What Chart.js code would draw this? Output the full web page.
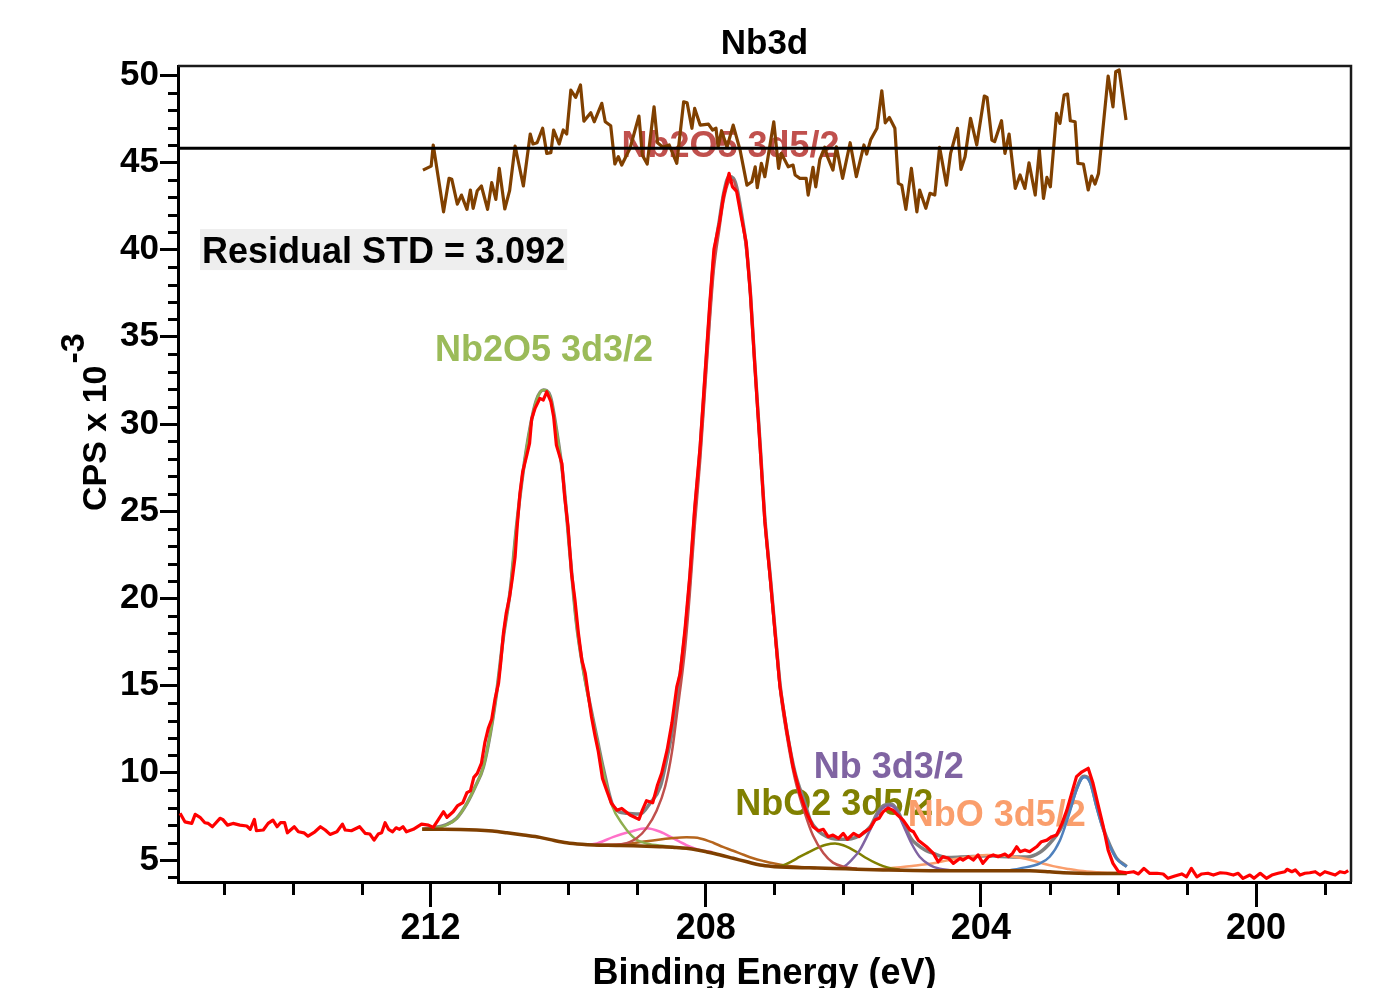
<!DOCTYPE html>
<html>
<head>
<meta charset="utf-8">
<title>Nb3d</title>
<script src="https://cdn.jsdelivr.net/npm/chart.js@4.4.1/dist/chart.umd.min.js"></script>
<style>
  html, body { margin: 0; padding: 0; background: #fff; }
  #chart { display: block; }
</style>
</head>
<body>
<canvas id="chart" width="1383" height="988"></canvas>
<script>
// Nb3d region, binding energy (eV) vs CPS x 10^-3

const xTicks = [212, 208, 204, 200];
const xMinorTicks = [215, 214, 213, 211, 210, 209, 207, 206, 205, 203, 202, 201, 199];
const yTicks = [5, 10, 15, 20, 25, 30, 35, 40, 45, 50];
const yMinorTicks = [4, 6, 7, 8, 9, 11, 12, 13, 14, 16, 17, 18, 19, 21, 22, 23, 24, 26, 27, 28, 29,
  31, 32, 33, 34, 36, 37, 38, 39, 41, 42, 43, 44, 46, 47, 48, 49];

// measured spectrum [eV, CPS x 10^-3]
const rawData = [
  [215.64,7.68],[215.57,7.19],[215.47,7.10],[215.42,7.62],[215.35,7.45],[215.28,7.14],[215.23,7.10],
  [215.17,6.91],[215.06,7.39],[215.02,7.33],[214.95,7.00],[214.87,7.10],[214.77,7.00],[214.67,6.95],
  [214.62,6.76],[214.56,7.33],[214.53,6.68],[214.43,6.72],[214.36,7.10],[214.29,7.29],[214.23,6.91],
  [214.18,7.14],[214.12,7.14],[214.08,6.56],[213.98,6.91],[213.92,6.62],[213.84,6.56],[213.78,6.37],
  [213.68,6.62],[213.60,6.91],[213.53,6.72],[213.46,6.47],[213.36,6.62],[213.28,7.06],[213.24,6.72],
  [213.15,6.68],[213.03,6.91],[212.95,6.53],[212.88,6.49],[212.82,6.14],[212.76,6.49],[212.71,6.56],
  [212.66,7.14],[212.61,6.76],[212.55,6.62],[212.50,6.85],[212.45,6.76],[212.40,6.91],[212.35,6.62],
  [212.25,6.76],[212.13,7.06],[212.03,7.00],[211.96,6.87],[211.89,7.29],[211.81,7.77],[211.76,7.45],
  [211.67,7.77],[211.61,8.10],[211.53,8.29],[211.47,8.86],[211.42,8.97],[211.37,9.74],[211.32,9.97],
  [211.26,10.54],[211.21,11.73],[211.16,12.55],[211.11,13.07],[211.06,14.27],[211.01,15.16],[210.98,16.28],
  [210.94,18.00],[210.90,19.14],[210.85,20.09],[210.81,21.15],[210.77,22.39],[210.74,24.11],[210.70,26.02],
  [210.66,27.26],[210.60,28.22],[210.56,28.89],[210.53,30.27],[210.48,30.90],[210.41,31.47],[210.36,31.38],
  [210.31,31.85],[210.25,31.28],[210.21,30.42],[210.17,28.79],[210.09,27.74],[210.05,25.83],[210.00,24.11],
  [209.95,21.44],[209.90,19.91],[209.85,18.00],[209.80,16.47],[209.75,15.70],[209.71,14.56],[209.66,13.22],
  [209.61,12.16],[209.56,11.21],[209.50,9.68],[209.44,9.01],[209.37,8.25],[209.29,7.86],[209.22,7.96],
  [209.10,7.58],[208.97,7.33],[208.92,7.86],[208.86,8.40],[208.77,8.28],[208.70,9.30],[208.64,9.97],
  [208.56,11.31],[208.49,12.88],[208.42,14.93],[208.37,15.70],[208.30,18.25],[208.23,21.33],[208.16,25.17],
  [208.08,28.75],[208.01,32.85],[207.94,36.94],[207.88,40.02],[207.80,41.55],[207.74,43.09],[207.66,44.37],
  [207.61,43.60],[207.55,43.34],[207.48,41.81],[207.41,40.40],[207.35,37.46],[207.29,33.62],[207.21,28.75],
  [207.14,24.40],[207.06,21.08],[206.99,18.00],[206.92,14.93],[206.82,12.37],[206.73,10.35],[206.63,8.82],
  [206.53,7.68],[206.44,6.91],[206.36,6.68],[206.29,6.76],[206.22,6.34],[206.15,6.43],[206.07,6.24],
  [206.00,6.53],[205.94,6.19],[205.85,6.53],[205.77,6.34],[205.69,6.62],[205.61,6.82],[205.54,7.29],
  [205.48,7.39],[205.42,7.77],[205.35,7.98],[205.28,7.86],[205.21,7.58],[205.13,7.29],[205.03,6.72],
  [204.98,6.62],[204.91,6.14],[204.79,5.76],[204.69,5.38],[204.62,4.90],[204.55,5.19],[204.47,5.10],
  [204.40,4.81],[204.30,5.10],[204.26,5.00],[204.18,5.19],[204.11,5.00],[204.04,5.29],[203.97,4.81],
  [203.89,5.19],[203.82,5.29],[203.75,5.19],[203.65,5.34],[203.60,5.19],[203.54,5.38],[203.48,5.76],
  [203.43,5.48],[203.36,5.57],[203.29,5.48],[203.19,5.76],[203.12,6.05],[203.04,6.14],[202.97,6.34],
  [202.90,6.43],[202.82,7.10],[202.75,7.86],[202.68,8.82],[202.61,9.78],[202.53,10.06],[202.44,10.26],
  [202.37,9.40],[202.29,8.06],[202.22,6.91],[202.15,5.57],[202.08,4.81],[202.00,4.33],[201.88,4.27],
  [201.78,4.33],[201.71,4.20],[201.63,4.52],[201.55,4.24],[201.44,4.24],[201.35,4.20],[201.28,3.95],
  [201.18,4.08],[201.08,4.20],[201.01,4.04],[200.94,4.52],[200.86,4.04],[200.79,4.20],[200.70,4.24],
  [200.62,4.14],[200.52,4.27],[200.43,4.24],[200.33,4.14],[200.26,4.24],[200.19,3.95],[200.09,4.14],
  [200.03,3.95],[199.94,4.24],[199.85,3.95],[199.77,4.14],[199.68,4.24],[199.58,4.33],[199.55,4.47],
  [199.48,4.33],[199.43,4.43],[199.36,4.14],[199.29,4.24],[199.22,4.27],[199.14,4.33],[199.07,4.14],
  [199.00,4.33],[198.93,4.24],[198.85,4.14],[198.78,4.33],[198.71,4.27],[198.66,4.39]
];

// Shirley background
const backgroundData = [
  [212.12,6.76],[211.80,6.76],[211.33,6.72],[211.10,6.66],[210.89,6.56],[210.65,6.43],[210.41,6.30],
  [210.20,6.12],[210.02,5.99],[209.80,5.90],[209.63,5.86],[209.30,5.84],[209.05,5.82],[208.66,5.76],
  [208.45,5.72],[208.28,5.67],[208.12,5.58],[207.99,5.47],[207.80,5.30],[207.60,5.10],[207.40,4.90],
  [207.21,4.71],[207.00,4.62],[206.82,4.58],[206.50,4.55],[206.15,4.52],[205.80,4.47],[205.42,4.43],
  [204.74,4.39],[204.01,4.39],[203.29,4.39],[203.00,4.33],[202.80,4.27],[202.32,4.23],[201.88,4.23]
];

// fit components (each sits on the background)
const nb2o5_32 = [
  [212.12,6.76],[211.96,6.80],[211.76,7.01],[211.62,7.39],[211.47,8.25],[211.35,9.20],[211.23,10.35],
  [211.13,12.26],[211.04,14.56],[210.94,17.80],[210.84,20.48],[210.75,24.11],[210.65,27.36],[210.55,29.84],
  [210.46,31.37],[210.36,31.95],[210.26,31.56],[210.17,29.65],[210.07,26.79],[209.97,22.39],[209.88,18.57],
  [209.78,15.89],[209.68,13.79],[209.58,11.88],[209.49,10.16],[209.37,8.20],[209.20,7.00],[209.03,6.24],
  [208.86,5.95],[208.60,5.80],[208.30,5.68]
];
const nb2o5_52 = [
  [209.60,5.86],[209.40,5.88],[209.20,5.92],[209.00,6.26],[208.86,6.83],[208.71,7.86],[208.59,9.20],
  [208.49,11.20],[208.42,13.30],[208.30,17.10],[208.23,20.30],[208.16,24.10],[208.08,27.90],[208.01,31.90],
  [207.94,35.90],[207.88,38.90],[207.80,41.20],[207.74,42.80],[207.66,43.90],[207.60,44.00],[207.55,43.40],
  [207.48,41.90],[207.41,40.00],[207.35,37.30],[207.29,33.50],[207.21,28.70],[207.14,24.40],[207.06,20.90],
  [206.99,17.80],[206.92,14.80],[206.82,12.10],[206.70,9.60],[206.56,7.70],[206.44,6.40],[206.29,5.40],
  [206.15,4.85],[206.00,4.62],[205.80,4.50]
];
const pinkPeak = [
  [209.75,5.86],[209.58,5.95],[209.34,6.33],[209.10,6.62],[208.86,6.82],[208.66,6.62],[208.47,6.24],
  [208.28,5.86],[208.08,5.57],[207.90,5.45]
];
const nbo2_32 = [
  [209.60,5.86],[209.30,5.88],[209.06,5.96],[208.86,6.08],[208.66,6.18],[208.47,6.26],[208.28,6.30],
  [208.08,6.24],[207.89,5.99],[207.75,5.75],[207.60,5.53],[207.45,5.30],[207.31,5.10],[207.15,4.93],
  [207.02,4.81],[206.82,4.67],[206.63,4.60],[206.40,4.54]
];
const nbo2_52 = [
  [207.00,4.62],[206.87,4.71],[206.75,4.92],[206.63,5.19],[206.50,5.45],[206.39,5.67],[206.25,5.88],
  [206.12,5.95],[206.00,5.85],[205.90,5.67],[205.78,5.40],[205.66,5.10],[205.54,4.85],[205.42,4.65],
  [205.30,4.52],[205.18,4.46]
];
const nb_32 = [
  [206.10,4.53],[206.00,4.60],[205.88,5.00],[205.76,5.57],[205.61,6.72],[205.49,7.68],[205.40,8.06],
  [205.32,8.12],[205.23,7.87],[205.13,7.01],[205.01,5.96],[204.89,5.19],[204.74,4.71],[204.60,4.50],
  [204.45,4.42]
];
const nbo_52 = [
  [205.60,4.45],[205.37,4.52],[205.00,4.66],[204.69,4.81],[204.50,4.97],[204.30,5.10],[204.10,5.22],
  [203.91,5.29],[203.70,5.27],[203.53,5.19],[203.35,5.07],[203.24,4.96],[203.10,4.80],[202.95,4.65],
  [202.75,4.50],[202.56,4.38],[202.30,4.30],[202.12,4.27],[201.88,4.24]
];
const nb_52 = [
  [203.60,4.40],[203.43,4.52],[203.14,4.81],[203.00,5.19],[202.85,6.14],[202.73,7.48],[202.61,9.01],
  [202.53,9.68],[202.49,9.74],[202.41,9.40],[202.32,8.06],[202.22,6.72],[202.12,5.76],[202.03,5.09],
  [201.88,4.61]
];

// fit envelope
const envelopeData = [
  [212.12,6.76],[211.96,6.85],[211.76,7.05],[211.62,7.40],[211.47,8.25],[211.35,9.20],[211.23,10.35],
  [211.13,12.26],[211.04,14.56],[210.94,17.80],[210.84,20.48],[210.75,24.11],[210.65,27.36],[210.55,29.84],
  [210.46,31.37],[210.36,31.95],[210.26,31.60],[210.17,29.70],[210.07,26.85],[209.97,22.45],[209.88,18.65],
  [209.78,15.97],[209.68,13.90],[209.58,12.00],[209.49,10.30],[209.34,8.05],[209.15,7.68],[208.95,7.64],
  [208.81,8.25],[208.66,9.20],[208.56,10.90],[208.49,12.30],[208.42,14.30],[208.30,18.00],[208.23,21.10],
  [208.16,24.90],[208.08,28.60],[208.01,32.60],[207.94,36.60],[207.88,39.60],[207.80,41.70],[207.74,43.20],
  [207.66,44.20],[207.60,44.10],[207.55,43.60],[207.48,42.10],[207.41,40.20],[207.35,37.50],[207.29,33.70],
  [207.21,28.90],[207.14,24.60],[207.06,21.20],[206.99,18.10],[206.92,15.10],[206.82,12.40],[206.70,10.00],
  [206.56,8.30],[206.48,7.30],[206.36,6.65],[206.24,6.34],[206.12,6.20],[206.00,6.19],[205.88,6.22],
  [205.76,6.40],[205.61,6.90],[205.49,7.80],[205.40,8.15],[205.30,8.20],[205.23,7.95],[205.13,7.15],
  [205.01,6.20],[204.93,5.90],[204.80,5.55],[204.69,5.38],[204.50,5.15],[204.30,5.17],[204.11,5.20],
  [203.91,5.25],[203.72,5.20],[203.53,5.18],[203.33,5.18],[203.14,5.45],[203.00,5.95],[202.85,6.72],
  [202.73,7.70],[202.61,9.10],[202.53,9.75],[202.49,9.80],[202.41,9.50],[202.32,8.15],[202.22,6.80],
  [202.12,5.80],[202.03,5.12],[201.88,4.63]
];

// residual, plotted offset around its zero line
const residualZero = 45.82;
const residualData = [
  [212.11,44.56],[211.99,44.79],[211.96,46.00],[211.81,42.17],[211.73,44.09],[211.69,44.03],[211.61,42.61],
  [211.55,43.13],[211.47,42.31],[211.42,43.42],[211.38,42.37],[211.32,43.38],[211.26,43.65],[211.17,42.31],
  [211.11,43.84],[211.05,42.88],[211.00,44.66],[210.92,42.33],[210.85,43.38],[210.77,45.94],[210.65,43.65],
  [210.55,46.63],[210.51,46.06],[210.45,46.13],[210.37,46.96],[210.31,45.52],[210.25,45.56],[210.21,46.86],
  [210.13,46.06],[210.07,46.86],[210.02,46.63],[209.96,49.15],[209.89,48.73],[209.82,49.44],[209.77,47.37],
  [209.67,47.85],[209.62,47.33],[209.51,48.39],[209.46,47.33],[209.38,47.10],[209.32,44.91],[209.27,45.33],
  [209.22,44.85],[209.10,45.81],[208.97,47.66],[208.92,45.42],[208.85,44.91],[208.75,48.19],[208.70,46.13],
  [208.62,45.87],[208.53,46.00],[208.42,44.95],[208.32,48.48],[208.27,48.42],[208.20,46.96],[208.16,48.10],
  [208.08,47.14],[207.96,47.20],[207.90,46.86],[207.85,46.96],[207.82,45.87],[207.77,46.82],[207.69,45.87],
  [207.60,47.14],[207.50,45.71],[207.40,43.70],[207.33,43.89],[207.28,44.75],[207.25,43.55],[207.19,44.95],
  [207.14,44.18],[207.01,47.33],[206.94,44.66],[206.90,45.52],[206.80,44.75],[206.73,44.85],[206.70,44.28],
  [206.63,44.09],[206.54,44.09],[206.51,43.13],[206.44,44.72],[206.40,43.60],[206.34,45.18],[206.27,45.87],
  [206.23,45.33],[206.15,44.56],[206.10,45.90],[206.01,44.09],[205.90,46.13],[205.81,44.18],[205.70,46.00],
  [205.66,45.48],[205.60,46.32],[205.51,46.96],[205.44,49.11],[205.39,47.27],[205.33,47.58],[205.25,46.96],
  [205.20,43.80],[205.15,43.70],[205.09,42.31],[205.01,44.66],[204.93,42.17],[204.89,43.42],[204.80,42.37],
  [204.74,43.23],[204.67,43.13],[204.60,45.87],[204.50,43.70],[204.44,45.52],[204.34,46.96],[204.29,44.60],
  [204.23,45.33],[204.15,47.53],[204.06,46.00],[203.95,48.81],[203.91,48.73],[203.84,46.28],[203.80,46.19],
  [203.70,47.39],[203.65,45.52],[203.59,46.63],[203.50,43.51],[203.43,44.28],[203.36,43.51],[203.30,44.98],
  [203.21,43.13],[203.15,45.71],[203.09,42.94],[203.04,44.14],[202.99,43.60],[202.90,47.81],[202.85,47.24],
  [202.79,48.86],[202.74,48.92],[202.70,47.39],[202.63,47.33],[202.59,44.95],[202.51,44.91],[202.44,43.42],
  [202.39,44.22],[202.34,43.76],[202.29,44.37],[202.15,49.95],[202.08,48.19],[202.04,50.20],[201.99,50.30],
  [201.89,47.43]
];

const peakLabels = [
  { text: 'Nb2O5 3d3/2', x: 210.35, y: 34.18, color: '#9bbb59' },
  { text: 'Nb2O5 3d5/2', x: 207.64, y: 45.88, color: '#c0504d' },
  { text: 'Nb 3d3/2', x: 205.34, y: 10.27, color: '#8064a2' },
  { text: 'NbO2 3d5/2', x: 206.13, y: 8.15, color: '#808000' },
  { text: 'NbO 3d5/2', x: 203.77, y: 7.52, color: '#fa9e6c' }
];
const statText = { text: 'Residual STD = 3.092', x: 215.35, y: 41.18 };

const FONT = "'Liberation Sans', Arial, Helvetica, sans-serif";
Chart.defaults.font.family = FONT;

const toPoints = pairs => pairs.map(([x, y]) => ({ x, y }));

function curve(label, pairs, color, width, order, smooth) {
  return {
    label,
    data: toPoints(pairs),
    borderColor: color,
    backgroundColor: color,
    borderWidth: width,
    order,
    pointRadius: 0,
    fill: false,
    tension: 0,
    cubicInterpolationMode: smooth ? 'monotone' : 'default',
    borderJoinStyle: 'round'
  };
}

const frame = {
  id: 'frame',
  afterDraw(chart) {
    const { ctx, chartArea: a } = chart;
    ctx.save();
    ctx.strokeStyle = '#1a1a1a';
    ctx.lineWidth = 2.5;
    ctx.beginPath();
    ctx.moveTo(a.left, a.top);
    ctx.lineTo(a.right, a.top);
    ctx.lineTo(a.right, a.bottom);
    ctx.stroke();
    ctx.restore();
  }
};

const minorTicks = {
  id: 'minorTicks',
  afterDraw(chart) {
    const { ctx, chartArea: a, scales: { x, y } } = chart;
    ctx.save();
    ctx.strokeStyle = '#000';
    ctx.lineWidth = 3;
    ctx.beginPath();
    yMinorTicks.forEach(v => {
      const py = Math.round(y.getPixelForValue(v)) + 0.5;
      ctx.moveTo(a.left - 10, py);
      ctx.lineTo(a.left, py);
    });
    xMinorTicks.forEach(v => {
      const px = Math.round(x.getPixelForValue(v)) + 0.5;
      ctx.moveTo(px, a.bottom);
      ctx.lineTo(px, a.bottom + 13);
    });
    ctx.stroke();
    ctx.restore();
  }
};

const textLayer = {
  id: 'textLayer',
  beforeDatasetsDraw(chart) {
    const { ctx, scales: { x, y } } = chart;
    ctx.save();
    // residual std box
    ctx.font = 'bold 36px ' + FONT;
    const sx = x.getPixelForValue(statText.x);
    const sy = y.getPixelForValue(statText.y);
    const w = ctx.measureText(statText.text).width;
    ctx.fillStyle = '#eeeeee';
    ctx.fillRect(sx, sy, w + 4, 41);
    ctx.fillStyle = '#000';
    ctx.textAlign = 'left';
    ctx.textBaseline = 'alphabetic';
    ctx.fillText(statText.text, sx + 2, sy + 34);

    // component labels
    ctx.font = 'bold 36px ' + FONT;
    ctx.textAlign = 'center';
    ctx.textBaseline = 'middle';
    peakLabels.forEach(l => {
      ctx.fillStyle = l.color;
      ctx.fillText(l.text, x.getPixelForValue(l.x), y.getPixelForValue(l.y));
    });
    ctx.restore();
  },
  afterDraw(chart) {
    const { ctx, chartArea: a } = chart;
    ctx.save();
    ctx.fillStyle = '#000';
    // title
    ctx.font = 'bold 35px ' + FONT;
    ctx.textAlign = 'center';
    ctx.textBaseline = 'middle';
    ctx.fillText('Nb3d', (a.left + a.right) / 2, 44);
    // y axis title with superscript
    ctx.translate(106, 511);
    ctx.rotate(-Math.PI / 2);
    ctx.textAlign = 'left';
    ctx.textBaseline = 'alphabetic';
    ctx.font = 'bold 34px ' + FONT;
    const main = 'CPS x 10';
    ctx.fillText(main, 0, 0);
    const mw = ctx.measureText(main).width;
    ctx.font = 'bold 34px ' + FONT;
    ctx.fillText('-3', mw + 2, -22);
    ctx.restore();
  }
};

const zeroLine = [[215.67, residualZero], [198.62, residualZero]];

new Chart(document.getElementById('chart'), {
  type: 'line',
  data: {
    datasets: [
      curve('Residual zero', zeroLine, '#000000', 3, 0, false),
      curve('Residual', residualData, '#804000', 3.2, 1, false),
      curve('Nb3d data', rawData, '#ff0000', 3.2, 2, false),
      curve('Background', backgroundData, '#7f3f00', 3.5, 3, true),
      curve('Nb2O5 3d5/2', nb2o5_52, '#c0504d', 2.5, 4, true),
      curve('Nb2O5 3d3/2', nb2o5_32, '#8fae4f', 2.5, 5, true),
      curve('Nb 3d5/2', nb_52, '#4f81bd', 2.5, 6, true),
      curve('Nb 3d3/2', nb_32, '#8064a2', 2.5, 7, true),
      curve('NbO2 3d5/2', nbo2_52, '#808000', 2.5, 8, true),
      curve('NbO2 3d3/2', nbo2_32, '#b5651d', 2.5, 9, true),
      curve('NbO 3d5/2', nbo_52, '#fa9e6c', 2.5, 10, true),
      curve('Pink', pinkPeak, '#ff70c8', 2.5, 11, true),
      curve('Envelope', envelopeData, '#808080', 3.5, 12, true)
    ]
  },
  options: {
    responsive: false,
    animation: false,
    devicePixelRatio: 1,
    layout: { padding: { top: 66, right: 32, left: 0, bottom: 0 } },
    plugins: {
      legend: { display: false },
      tooltip: { enabled: false },
      title: { display: false }
    },
    scales: {
      x: {
        type: 'linear',
        reverse: true,
        min: 198.62,
        max: 215.67,
        afterBuildTicks: s => { s.ticks = xTicks.map(v => ({ value: v })); },
        afterFit: s => { s.height = 106; },
        grid: { drawOnChartArea: false, tickLength: 25, tickWidth: 3, tickColor: '#000' },
        border: { color: '#000', width: 3 },
        ticks: { color: '#000', font: { size: 36, weight: 'bold' }, padding: 0, maxRotation: 0, autoSkip: false },
        title: {
          display: true,
          text: 'Binding Energy (eV)',
          color: '#000',
          font: { size: 36, weight: 'bold', lineHeight: 0.7 },
          padding: { top: 0, bottom: 1 }
        }
      },
      y: {
        type: 'linear',
        min: 3.74,
        max: 50.53,
        afterBuildTicks: s => { s.ticks = yTicks.map(v => ({ value: v })); },
        afterFit: s => { s.width = 178; },
        grid: { drawOnChartArea: false, tickLength: 18, tickWidth: 3, tickColor: '#000' },
        border: { color: '#000', width: 3 },
        ticks: { color: '#000', font: { size: 35, weight: 'bold' }, padding: 1, autoSkip: false }
      }
    }
  },
  plugins: [textLayer, minorTicks, frame]
});
</script>
</body>
</html>
